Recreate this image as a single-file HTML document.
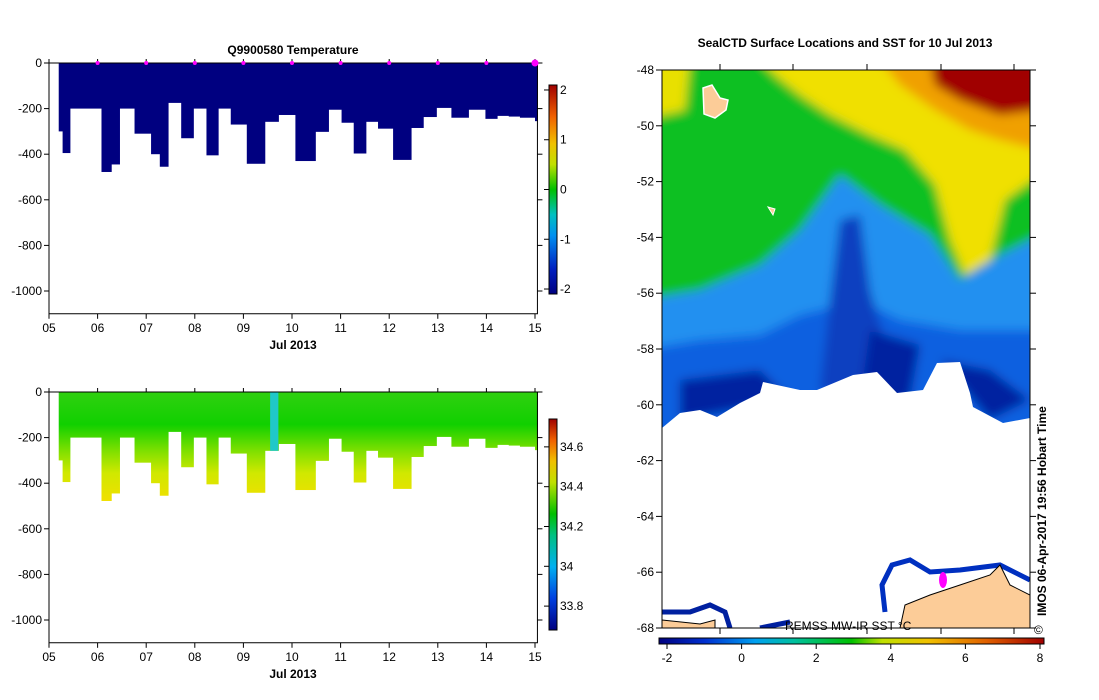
<!DOCTYPE html>
<html><head><meta charset="utf-8">
<style>
body{margin:0;background:#fff;font-family:"Liberation Sans",Arial,sans-serif;}
svg{display:block}
text{font-family:"Liberation Sans",Arial,sans-serif;font-size:12px;fill:#000}
</style></head>
<body>
<svg id="root" width="1099" height="700" viewBox="0 0 1099 700">
<defs>
<linearGradient id="tcb" x1="0" y1="1" x2="0" y2="0">
<stop offset="0" stop-color="#000080"/><stop offset="0.12" stop-color="#0020c0"/><stop offset="0.28" stop-color="#0090f0"/><stop offset="0.38" stop-color="#00c0c0"/><stop offset="0.5" stop-color="#00c000"/><stop offset="0.62" stop-color="#c0e000"/><stop offset="0.72" stop-color="#f0c000"/><stop offset="0.85" stop-color="#f06000"/><stop offset="1" stop-color="#a00000"/>
</linearGradient>
<linearGradient id="mcb" x1="0" y1="0" x2="1" y2="0">
<stop offset="0" stop-color="#000080"/><stop offset="0.12" stop-color="#0030d0"/><stop offset="0.25" stop-color="#00a0f0"/><stop offset="0.35" stop-color="#00c0a0"/><stop offset="0.5" stop-color="#00c000"/><stop offset="0.58" stop-color="#c0e000"/><stop offset="0.7" stop-color="#f0c000"/><stop offset="0.85" stop-color="#e06000"/><stop offset="1" stop-color="#a00000"/>
</linearGradient>
<linearGradient id="salcb" x1="0" y1="1" x2="0" y2="0">
<stop offset="0" stop-color="#000080"/><stop offset="0.15" stop-color="#0040e0"/><stop offset="0.3" stop-color="#00b0f0"/><stop offset="0.45" stop-color="#00c080"/><stop offset="0.55" stop-color="#00c000"/><stop offset="0.7" stop-color="#c0e000"/><stop offset="0.8" stop-color="#f0c000"/><stop offset="0.9" stop-color="#f06000"/><stop offset="1" stop-color="#a00000"/>
</linearGradient>
<linearGradient id="salcol" gradientUnits="userSpaceOnUse" x1="0" y1="392" x2="0" y2="500">
<stop offset="0" stop-color="#30d010"/><stop offset="0.3" stop-color="#10d000"/><stop offset="0.55" stop-color="#80e000"/><stop offset="0.75" stop-color="#d0e800"/><stop offset="1" stop-color="#f0e000"/>
</linearGradient>
<filter id="bl"><feGaussianBlur stdDeviation="5"/></filter>
<clipPath id="mapclip"><rect x="662" y="70" width="368" height="558"/></clipPath>
</defs>
<g id="tplot"></g>
<g id="splot"></g>
<g id="map"></g>
</svg>
<script>
const NS="http://www.w3.org/2000/svg";
const root=document.getElementById('root');
function mk(tag,attrs,parent,txt){const e=document.createElementNS(NS,tag);for(const k in attrs)e.setAttribute(k,attrs[k]);if(txt!==undefined)e.textContent=txt;(parent||root).appendChild(e);return e;}

// profile data: start day, end day, max depth (m)
const profStart=[5.2,5.28,5.43,6.08,6.28,6.45,6.76,7.1,7.28,7.45,7.72,7.97,8.24,8.48,8.74,9.07,9.44,9.72,10.07,10.48,10.75,11.02,11.27,11.52,11.77,12.08,12.45,12.7,12.97,13.28,13.63,13.98,14.22,14.46,14.69,15.0];
const profEnd=[5.28,5.43,6.08,6.28,6.45,6.76,7.1,7.28,7.45,7.72,7.97,8.24,8.48,8.74,9.07,9.44,9.72,10.07,10.48,10.75,11.02,11.27,11.52,11.77,12.08,12.45,12.7,12.97,13.28,13.63,13.98,14.22,14.46,14.69,15.0,15.05];
const profDepth=[-300,-395,-200,-478,-445,-200,-310,-400,-455,-175,-330,-200,-405,-200,-270,-442,-258,-228,-430,-302,-205,-262,-397,-258,-288,-425,-285,-237,-197,-240,-205,-245,-232,-235,-240,-255];
const surfDays=[6,7,8,9,10,11,12,13,14,15];
const dayTicks=['05','06','07','08','09','10','11','12','13','14','15'];
const depthTicks=[0,-200,-400,-600,-800,-1000];
const tempTicks=[2,1,0,-1,-2];
const salTicks=[34.6,34.4,34.2,34,33.8];
const latTicks=[-48,-50,-52,-54,-56,-58,-60,-62,-64,-66,-68];
const sstTicks=[-2,0,2,4,6,8];
const sstFTicks=[70,75,80,85,90];

function section(g,top,title,fill,cbMin,cbMax,cbTicks,cbGrad,cbTop,cbBot){
  const x=d=>49+(d-5)*48.6;
  const y=v=>top-v*0.228;
  const bottom=y(-1100);
  if(title) mk('text',{x:293,y:top-9,'text-anchor':'middle','font-weight':'bold'},g,title);
  for(let i=0;i<profStart.length;i++){
    const r=mk('rect',{x:x(profStart[i]),y:y(0),width:x(profEnd[i])-x(profStart[i])+0.5,height:y(profDepth[i])-y(0),fill:fill},g);
    
    
  }
  if(fill!=='#000080'){
    mk('rect',{x:x(9.55),y:y(0),width:x(9.72)-x(9.55),height:y(-258)-y(0),fill:'#20c8c8'},g);
  }
  mk('path',{d:`M49 ${y(0)} V${bottom} H${x(15.05)} V${y(0)} H49`,fill:'none',stroke:'#000'},g);
  depthTicks.forEach(v=>{mk('line',{x1:44,x2:49,y1:y(v),y2:y(v),stroke:'#000'},g);mk('line',{x1:x(15.05),x2:x(15.05)+5,y1:y(v),y2:y(v),stroke:'#000'},g);
    mk('text',{x:42,y:y(v)+4,'text-anchor':'end'},g,String(v));});
  dayTicks.forEach((t,i)=>{const xx=x(5+i);mk('line',{x1:xx,x2:xx,y1:bottom,y2:bottom+5,stroke:'#000'},g);mk('line',{x1:xx,x2:xx,y1:y(0),y2:y(0)-4,stroke:'#000'},g);
    mk('text',{x:xx,y:bottom+18,'text-anchor':'middle'},g,t);});
  mk('text',{x:293,y:bottom+35,'text-anchor':'middle','font-weight':'bold'},g,'Jul 2013');
  if(fill==='#000080') surfDays.forEach(d=>mk('circle',{cx:x(d),cy:y(0),r:d===15?3.5:2,fill:'#ff00ff'},g));
  const cy=v=>cbBot-(v-cbMin)/(cbMax-cbMin)*(cbBot-cbTop);
  mk('rect',{x:549,y:cbTop,width:8,height:cbBot-cbTop,fill:cbGrad,stroke:'#000'},g);
  cbTicks.forEach(v=>{mk('line',{x1:544,x2:549,y1:cy(v),y2:cy(v),stroke:'#000'},g);mk('text',{x:560,y:cy(v)+4},g,String(v));});
}
section(document.getElementById('tplot'),63,'Q9900580  Temperature','#000080',-2.1,2.1,tempTicks,'url(#tcb)',85,294);
section(document.getElementById('splot'),392,'','url(#salcol)',33.68,34.74,salTicks,'url(#salcb)',419,630);

// map
const mg=document.getElementById('map');
const my=l=>70+(-48-l)*27.9;
mk('text',{x:845,y:47,'text-anchor':'middle','font-weight':'bold'},mg,'SealCTD Surface Locations and SST for 10 Jul 2013');
const m=mk('g',{'clip-path':'url(#mapclip)'},mg);
mk('rect',{x:662,y:70,width:368,height:558,fill:'#fff'},m);
const b=mk('g',{filter:'url(#bl)'},m);
mk('rect',{x:640,y:60,width:400,height:380,fill:'#10c020'},b);
mk('path',{d:'M640 60 H690 L685 110 L640 120 Z',fill:'#e8e000'},b);
mk('path',{d:'M760 60 H1040 V175 L1005 200 L990 260 L965 275 L950 240 L935 185 L905 150 L870 135 L830 115 L800 95 L775 75 Z',fill:'#f0e000'},b);
mk('path',{d:'M880 60 H1040 V150 L1000 140 L970 130 L935 110 L900 85 Z',fill:'#f0a000'},b);
mk('path',{d:'M930 60 H1040 V110 L1000 115 L960 100 L935 85 Z',fill:'#a00000'},b);
mk('path',{d:'M640 300 L700 290 L760 265 L800 230 L840 175 L880 205 L930 235 L960 280 L1000 255 L1040 235 V440 H640 Z',fill:'#2090f0'},b);
mk('path',{d:'M640 350 L700 340 L760 335 L800 315 L860 300 L900 320 L960 330 L1040 330 V440 H640 Z',fill:'#1060e0'},b);
mk('path',{d:'M840 220 L860 215 L870 290 L890 360 L860 400 L820 390 L830 300 Z',fill:'#1040c0'},b);
mk('path',{d:'M680 380 L760 370 L790 400 L680 420 Z M940 360 L990 370 L1030 400 L990 420 Z M870 330 L920 345 L910 400 L860 400 Z',fill:'#0020a0'},b);
// ice
mk('path',{d:'M662 428 L680 413 L700 410 L717 417 L740 403 L760 393 L763 382 L800 390 L817 390 L853 375 L877 372 L897 393 L923 390 L937 363 L960 362 L970 393 L973 407 L1003 423 L1030 418 V640 H640 Z',fill:'#fff'},m);
mk('path',{d:'M885 612 L882 585 L892 565 L910 560 L930 572 L960 570 L1000 565 L1030 580',fill:'none',stroke:'#0030c0','stroke-width':5},m);
mk('path',{d:'M662 612 L690 612 L710 605 L725 612 L730 628 M760 628 L790 622',fill:'none',stroke:'#0020a0','stroke-width':5},m);
mk('path',{d:'M900 628 L905 605 L930 595 L960 585 L990 575 L1000 565 L1010 585 L1030 595 V628 Z',fill:'#fccc98',stroke:'#000','stroke-width':1},m);
mk('path',{d:'M662 620 L700 624 L715 620 V628 H662 Z',fill:'#fccc98',stroke:'#000','stroke-width':1},m);
mk('path',{d:'M703 88 L712 85 L720 98 L728 100 L726 110 L715 118 L704 114 Z',fill:'#fccc98',stroke:'#fff','stroke-width':1.5},m);
mk('path',{d:'M768 207 L775 209 L773 215 Z',fill:'#fccc98',stroke:'#fff'},m);
mk('ellipse',{cx:943,cy:580,rx:4,ry:8,fill:'#ff00ff'},m);
mk('text',{x:785,y:630,'font-size':'13'},mg,'REMSS MW-IR SST °C');
mk('rect',{x:662,y:70,width:368,height:558,fill:'none',stroke:'#000'},mg);
latTicks.forEach(l=>{mk('line',{x1:656,x2:662,y1:my(l),y2:my(l),stroke:'#000'},mg);mk('line',{x1:1030,x2:1036,y1:my(l),y2:my(l),stroke:'#000'},mg);
  mk('text',{x:654,y:my(l)+4,'text-anchor':'end'},mg,String(l));});
[720,793,867,941,1014].forEach(xx=>{mk('line',{x1:xx,x2:xx,y1:628,y2:634,stroke:'#000'},mg);mk('line',{x1:xx,x2:xx,y1:70,y2:64,stroke:'#000'},mg);});
const sx=v=>667+(v+2)*37.3;
mk('rect',{x:659,y:638,width:385,height:6,fill:'url(#mcb)',stroke:'#000'},mg);
sstTicks.forEach(v=>{mk('line',{x1:sx(v),x2:sx(v),y1:644,y2:649,stroke:'#000'},mg);mk('text',{x:sx(v),y:662,'text-anchor':'middle'},mg,String(v));});
sstFTicks.forEach(f=>{const c=(f-32)*5/9;mk('text',{x:sx(c),y:652,'text-anchor':'middle',fill:'#333'},mg,String(f));});
mk('text',{x:0,y:0,'font-weight':'bold','font-size':'14',transform:'translate(1046,616) rotate(-90)'},mg,'IMOS 06-Apr-2017 19:56 Hobart Time');
mk('text',{x:1034,y:634,'font-size':'13'},mg,'©');
</script>
</body></html>
